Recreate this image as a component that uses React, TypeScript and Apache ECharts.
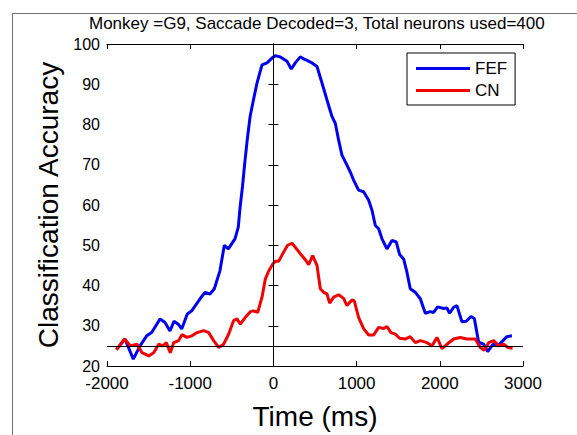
import React, { useEffect, useRef } from "react";
import * as echarts from "echarts";

const titleText = "Monkey =G9, Saccade Decoded=3, Total neurons used=400";
const xName = "Time (ms)";
const yName = "Classification Accuracy";
const seriesNames = ["FEF", "CN"];

const fefTimes = [-1883, -1784, -1684, -1603, -1523, -1463, -1363, -1303, -1243, -1195, -1143, -1102, -1035, -982, -882, -822, -762, -710, -642, -590, -542, -462, -422, -400, -372, -345, -315, -280, -240, -197, -137, -77, -17, 23, 83, 163, 215, 263, 323, 384, 464, 524, 584, 644, 704, 744, 784, 824, 884, 924, 964, 1024, 1084, 1145, 1185, 1225, 1265, 1305, 1365, 1425, 1477, 1517, 1565, 1605, 1645, 1706, 1766, 1826, 1886, 1926, 1974, 2046, 2086, 2118, 2166, 2206, 2266, 2318, 2375, 2415, 2467, 2527, 2575, 2639, 2695, 2759, 2807, 2867];
const fefAcc = [24.2, 26.7, 21.7, 25, 27.5, 28.3, 31.7, 30.8, 28.7, 31.1, 30.4, 29.2, 32.9, 33.7, 36.7, 38.3, 37.9, 39.2, 43.7, 50, 49.1, 51.6, 54.5, 59.5, 64.5, 70.3, 76.1, 82, 86.1, 90.3, 94.8, 95.3, 96.5, 97.1, 96.8, 95.7, 93.8, 95.3, 96.8, 96.1, 95.3, 94.4, 90.3, 86.1, 82, 80.3, 76.1, 72.4, 69.9, 68.2, 66.2, 63.7, 63.3, 61.2, 58.7, 54.9, 54.1, 51.6, 49.1, 51.2, 50.8, 47.7, 46.6, 43.3, 39.2, 38.3, 36.7, 33.1, 33.5, 33.3, 34.7, 34.3, 34.4, 33.1, 34.6, 35, 31, 31.1, 32.3, 31.8, 25.9, 25.4, 23.6, 25.4, 25, 26.3, 27.3, 27.5];

const cnTimes = [-1888, -1788, -1720, -1639, -1579, -1499, -1439, -1379, -1327, -1287, -1239, -1199, -1139, -1099, -1039, -979, -918, -838, -778, -718, -658, -598, -538, -478, -438, -398, -337, -277, -237, -189, -137, -97, -57, -5, 23, 63, 123, 171, 223, 263, 323, 384, 424, 472, 524, 564, 604, 644, 676, 724, 784, 844, 884, 944, 972, 1024, 1084, 1145, 1205, 1265, 1325, 1365, 1413, 1465, 1517, 1585, 1645, 1706, 1766, 1846, 1906, 1966, 2026, 2086, 2166, 2246, 2326, 2426, 2486, 2535, 2587, 2647, 2707, 2767, 2819, 2875];
const cnAcc = [24, 26.7, 25, 25.4, 23.3, 22.5, 23.3, 25.4, 25, 25.8, 23.3, 25.8, 26.3, 27.8, 27.1, 27.5, 28.3, 28.8, 28.3, 26.3, 24.6, 25.4, 27.9, 31.3, 31.7, 30.4, 32.1, 33.5, 33.7, 33.3, 37.1, 41.6, 43.6, 45.4, 46, 46, 48.3, 50, 50.5, 49.5, 47.9, 46.4, 45.2, 47.4, 45, 39.2, 38.3, 37.9, 35.6, 37.1, 37.7, 36.8, 35, 36.4, 36.2, 32.1, 29.3, 27.7, 27.7, 29.6, 29.3, 29.8, 28.3, 27.9, 26.9, 26.7, 27.3, 25.8, 26.3, 25.8, 25, 27.1, 24.3, 25.4, 26.7, 27.1, 26.7, 26.7, 24.6, 23.9, 25.8, 26.3, 25, 25.4, 24.6, 24.4];

const xTicks = { min: -2000, max: 3000, interval: 1000 };
const yTicks = { min: 20, max: 100, interval: 10 };
const chanceLevel = 25;
const eventTime = 0;

const FONT = "'Liberation Sans', Arial, Helvetica, sans-serif";

export default function App() {
  const ref = useRef<HTMLDivElement>(null);
  useEffect(() => {
    if (!ref.current) return;
    const chart = echarts.init(ref.current, undefined, { renderer: "svg" });
    const zip = (t: number[], v: number[]) => t.map((x, i) => [x, v[i]]);
    const axisCommon = {
      axisLine: { show: true, lineStyle: { color: "#000", width: 1 } },
      axisTick: { show: true, inside: true, length: 5, lineStyle: { color: "#000" } },
      splitLine: { show: false },
    };
    chart.setOption({
      animation: false,
      backgroundColor: "transparent",
      textStyle: { fontFamily: FONT },
      title: {
        text: titleText,
        left: 89,
        top: 15,
        padding: 0,
        textStyle: { fontSize: 17, fontWeight: "normal", color: "#000", fontFamily: FONT },
      },
      legend: {
        orient: "vertical",
        left: 407,
        top: 53,
        padding: [7, 8, 6, 9],
        itemGap: 5,
        itemWidth: 54,
        itemHeight: 3,
        icon: "rect",
        borderColor: "#000",
        borderWidth: 1,
        backgroundColor: "#fff",
        textStyle: { fontSize: 17, color: "#000", fontFamily: FONT },
        data: seriesNames,
      },
      grid: { left: 107, right: 54, top: 44, bottom: 69, containLabel: false },
      xAxis: [
        {
          type: "value",
          position: "bottom",
          ...xTicks,
          ...axisCommon,
          name: xName,
          nameLocation: "middle",
          nameGap: 36,
          nameTextStyle: { fontSize: 28, color: "#000", fontFamily: FONT },
          axisLabel: {
            fontSize: 17,
            color: "#000",
            margin: 9,
            fontFamily: FONT,
            formatter: (v: number) => String(v),
          },
        },
        {
          type: "value",
          position: "top",
          ...xTicks,
          ...axisCommon,
          axisLabel: { show: false },
        },
      ],
      yAxis: [
        {
          type: "value",
          position: "left",
          ...yTicks,
          ...axisCommon,
          name: yName,
          nameLocation: "middle",
          nameGap: 45,
          nameTextStyle: { fontSize: 28, color: "#000", fontFamily: FONT },
          axisLabel: {
            fontSize: 16,
            color: "#000",
            margin: 7,
            fontFamily: FONT,
            formatter: (v: number) => String(v),
          },
        },
        {
          type: "value",
          position: "right",
          ...yTicks,
          ...axisCommon,
          axisLabel: { show: false },
        },
      ],
      series: [
        {
          name: seriesNames[0],
          type: "line",
          showSymbol: false,
          data: zip(fefTimes, fefAcc),
          lineStyle: { color: "#0000f0", width: 3 },
          itemStyle: { color: "#0000f0" },
          z: 3,
          markLine: {
            silent: true,
            symbol: ["none", "none"],
            label: { show: false },
            lineStyle: { color: "#000", width: 1, type: "solid" },
            data: [{ xAxis: eventTime }, { yAxis: chanceLevel }],
          },
        },
        {
          name: seriesNames[1],
          type: "line",
          showSymbol: false,
          data: zip(cnTimes, cnAcc),
          lineStyle: { color: "#f00000", width: 3 },
          itemStyle: { color: "#f00000" },
          z: 3,
        },
      ],
    });
    return () => chart.dispose();
  }, []);
  return (
    <div
      style={{
        position: "fixed",
        left: 0,
        top: 0,
        width: 577,
        height: 435,
        background: "#fff",
        overflow: "hidden",
      }}
    >
      <div
        style={{
          position: "absolute",
          left: 12,
          top: 13,
          width: 700,
          height: 600,
          borderLeft: "1px solid #707070",
          borderTop: "1px solid #707070",
        }}
      />
      <div
        ref={ref}
        style={{ position: "absolute", left: 0, top: 0, width: 577, height: 435 }}
      />
    </div>
  );
}
